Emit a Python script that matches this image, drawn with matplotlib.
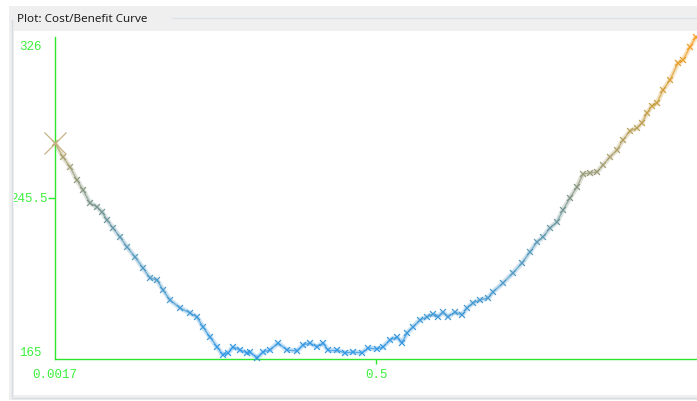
import numpy as np
import matplotlib
matplotlib.use("Agg")
import matplotlib.pyplot as plt
from matplotlib.collections import LineCollection
from matplotlib.colors import LinearSegmentedColormap, Normalize
from matplotlib.patches import Rectangle
from matplotlib.lines import Line2D

# cost/benefit samples along the threshold axis
threshold = [0.0017, 0.0141, 0.0250, 0.0358, 0.0452, 0.0560, 0.0669, 0.0747,
             0.0824, 0.0917, 0.1026, 0.1135, 0.1259, 0.1383, 0.1492, 0.1600,
             0.1694, 0.1802, 0.1958, 0.2113, 0.2221, 0.2314, 0.2423, 0.2532,
             0.2625, 0.2703, 0.2780, 0.2889, 0.2997, 0.3044, 0.3153, 0.3246,
             0.3354, 0.3479, 0.3618, 0.3774, 0.3867, 0.3975, 0.4084, 0.4177,
             0.4255, 0.4394, 0.4519, 0.4643, 0.4783, 0.4876, 0.5015, 0.5109,
             0.5217, 0.5326, 0.5403, 0.5481, 0.5574, 0.5683, 0.5791, 0.5884,
             0.5962, 0.6040, 0.6117, 0.6226, 0.6335, 0.6412, 0.6505, 0.6614,
             0.6738, 0.6816, 0.6971, 0.7126, 0.7266, 0.7390, 0.7499, 0.7592,
             0.7701, 0.7809, 0.7903, 0.8011, 0.8120, 0.8213, 0.8322, 0.8430,
             0.8524, 0.8632, 0.8741, 0.8834, 0.8943, 0.9051, 0.9129, 0.9207,
             0.9284, 0.9362, 0.9455, 0.9564, 0.9688, 0.9766, 0.9874, 0.9967]
cost = [273.0, 266.0, 261.0, 254.5, 249.5, 243.0, 241.0, 238.5,
        234.5, 230.5, 226.0, 221.0, 216.0, 210.5, 205.5, 204.5,
        199.5, 194.5, 190.5, 188.0, 186.0, 181.0, 176.0, 171.0,
        167.0, 168.0, 171.0, 169.5, 168.0, 168.5, 165.5, 168.5,
        169.5, 173.0, 169.5, 169.0, 172.0, 173.0, 171.0, 173.0,
        169.5, 169.5, 168.0, 168.5, 168.0, 170.5, 170.0, 171.0,
        174.5, 176.0, 173.0, 178.0, 181.0, 184.5, 186.0, 187.5,
        186.0, 188.5, 186.0, 188.5, 187.0, 190.5, 193.0, 194.5,
        195.5, 198.5, 203.0, 208.0, 213.0, 218.5, 223.5, 226.0,
        230.5, 233.5, 239.5, 245.5, 251.0, 257.5, 258.0, 258.5,
        262.0, 266.0, 269.5, 274.5, 279.0, 280.5, 283.0, 288.0,
        291.5, 293.0, 299.5, 304.5, 313.0, 314.5, 321.0, 326.0]

x_min, x_max = 0.0017, 0.9983
y_min, y_max = 165.0, 326.0
x_ticks = [0.0017, 0.5]
x_tick_labels = ["0.0017", "0.5"]
y_mid = 245.5

W, H = 697, 401
GREEN = "#2ee62e"
LABEL_GREEN = "#3cf03c"

fig = plt.figure(figsize=(W / 100, H / 100), dpi=100)
fig.patch.set_facecolor("white")


def box(x0, y0, x1, y1, color, z):
    # rectangle given in pixel coords measured from the top-left corner
    fig.patches.append(Rectangle((x0 / W, 1 - y1 / H), (x1 - x0) / W, (y1 - y0) / H,
                                 transform=fig.transFigure, facecolor=color,
                                 edgecolor="none", zorder=z))


def hline(x0, x1, y, color):
    fig.lines.append(Line2D([x0 / W, x1 / W], [1 - y / H, 1 - y / H],
                            transform=fig.transFigure, color=color, lw=1, zorder=-1))


# window panel and group box
box(9, 6, W, 400, "#efefef", -3)
box(14, 31, W, 395, "white", -2)
hline(172, W, 17.5, "#dce2e7")
hline(12, W, 397.5, "#d6dce1")
fig.lines.append(Line2D([12 / W, 12 / W], [1 - 20 / H, 1 - 396 / H],
                        transform=fig.transFigure, color="#d6dce1", lw=1, zorder=6))
box(9, 31, 11.5, 395, "#efefef", 5)
box(12.5, 31, 14, 395, "#f3f3f3", 5)
fig.text(17 / W, 1 - 19 / H, "Plot: Cost/Benefit Curve", ha="left", va="center",
         fontsize=8.4, family="Noto Sans", color="#1e1e1e")

ax = fig.add_axes([55 / W, 1 - 359 / H, (W - 55) / W, (359 - 37) / H])
ax.set_xlim(x_min, x_max)
ax.set_ylim(y_min, y_max)
for side in ("top", "right"):
    ax.spines[side].set_visible(False)
for side in ("left", "bottom"):
    ax.spines[side].set_color(GREEN)
    ax.spines[side].set_linewidth(1.0)

mono = "Liberation Mono"
ax.set_xticks(x_ticks)
ax.set_xticklabels(x_tick_labels, family=mono, fontsize=9, color=LABEL_GREEN)
ax.tick_params(axis="x", direction="out", length=3.5, width=1.0, color=GREEN, pad=3.5)
ax.xaxis.get_major_ticks()[0].tick1line.set_visible(False)
ax.set_yticks([y_mid])
ax.set_yticklabels([f"{y_mid:g}"], family=mono, fontsize=9, color=LABEL_GREEN)
ax.tick_params(axis="y", direction="out", length=5, width=1.0, color=GREEN, pad=0.5)
for val, va, dy in ((y_max, "top", -3), (y_min, "bottom", 0)):
    ax.annotate(f"{val:g}", xy=(0, val), xycoords=("axes fraction", "data"),
                xytext=(-9.5, dy), textcoords="offset points", ha="right", va=va,
                family=mono, fontsize=9, color=LABEL_GREEN, annotation_clip=False)

# curve coloured by cost, blue at the bottom to orange at the top
cmap = LinearSegmentedColormap.from_list(
    "costmap", [(0.0, "#3399e6"), (0.35, "#5b9bbb"), (0.5, "#7f9486"),
                (0.62, "#a8a070"), (0.8, "#c9a040"), (1.0, "#f79d1e")])
norm = Normalize(y_min, y_max)
xs = np.array(threshold)
ys = np.array(cost)
pts = np.column_stack([xs, ys]).reshape(-1, 1, 2)
segs = np.concatenate([pts[:-1], pts[1:]], axis=1)
seg_vals = (ys[:-1] + ys[1:]) / 2
for lw, alpha, z in ((3.6, 0.28, 3), (1.0, 0.75, 4)):
    lc = LineCollection(segs, cmap=cmap, norm=norm, linewidths=lw, alpha=alpha,
                        clip_on=False, zorder=z)
    lc.set_array(seg_vals)
    ax.add_collection(lc)
ax.scatter(xs, ys, c=ys, cmap=cmap, norm=norm, marker="x", s=18, linewidths=0.9,
           clip_on=False, zorder=5)

# start point marker
ax.plot(xs[:1], ys[:1], marker="x", markersize=16, markeredgewidth=0.9,
        color="#c9b485", linestyle="none", clip_on=False, zorder=6)

fig.savefig("out.png", dpi=100)
